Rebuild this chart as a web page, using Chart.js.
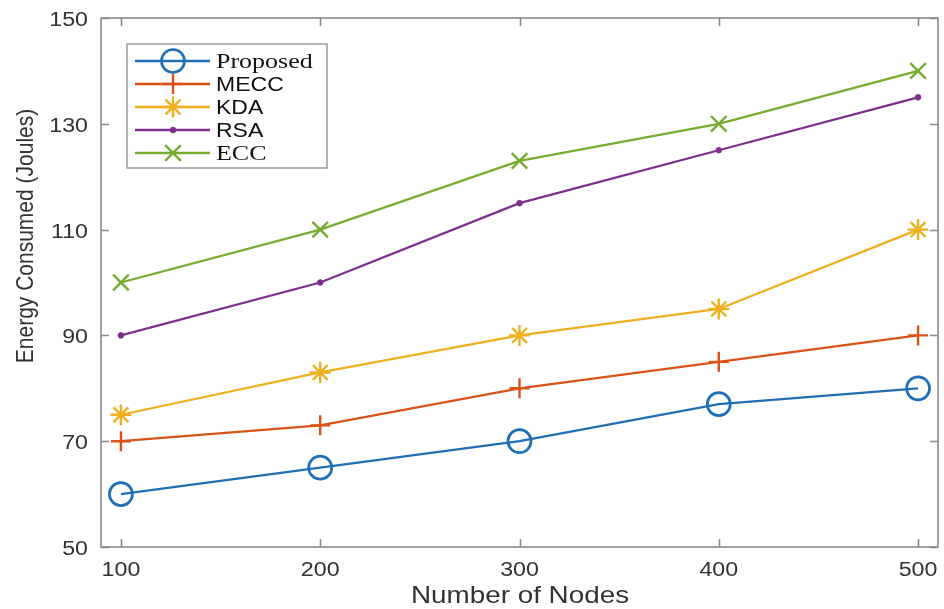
<!DOCTYPE html>
<html>
<head>
<meta charset="utf-8">
<script src="https://cdn.jsdelivr.net/npm/chart.js@4/dist/chart.umd.min.js"></script>
<style>
  html, body { margin: 0; padding: 0; background: #fff; }
  #wrap { width: 944px; height: 609px; position: relative; }
</style>
</head>
<body>
<div id="wrap"><canvas id="c" width="944" height="609"></canvas></div>
<script>
// Energy consumed per scheme versus network size
const nodes    = [100, 200, 300, 400, 500];
const proposed = [60, 65, 70, 77, 80];
const mecc     = [70, 73, 80, 85, 90];
const kda      = [75, 83, 90, 95, 110];
const rsa      = [90, 100, 115, 125, 135];
const ecc      = [100, 110, 123, 130, 140];
const yTicks   = [50, 70, 90, 110, 130, 150];
const xTitle   = 'Number of Nodes';
const yTitle   = 'Energy Consumed (Joules)';

const SANS  = '"Liberation Sans", Arial, sans-serif';
const SERIF = '"Liberation Serif", "Times New Roman", serif';

function series(label, values, color, style, radius, width, legendFont) {
  const solid = style === 'circle' && radius < 5;
  return {
    label,
    data: nodes.map((n, i) => ({ x: n, y: values[i] })),
    borderColor: color,
    backgroundColor: solid ? color : 'rgba(0,0,0,0)',
    borderWidth: 2.3,
    pointStyle: style,
    pointRadius: radius,
    pointHoverRadius: radius,
    pointBorderWidth: width,
    pointBorderColor: color,
    pointBackgroundColor: solid ? color : 'rgba(0,0,0,0)',
    tension: 0,
    legendFont
  };
}

const datasets = [
  series('Proposed', proposed, '#1f6fb2', 'circle',   11.5, 2.7, '22px ' + SERIF),
  series('MECC',     mecc,     '#d95319', 'cross',    10,   2.4, '19.5px ' + SANS),
  series('KDA',      kda,      '#edb120', 'star',     10.5, 2.4, '19.5px ' + SANS),
  series('RSA',      rsa,      '#7e2f8e', 'circle',   2.8,  1,   '19.5px ' + SANS),
  series('ECC',      ecc,      '#77ac30', 'crossRot', 11,   2.4, '22px ' + SERIF)
];

// text drawn with a slight horizontal widening
function wideText(ctx, text, x, y, sx, align, baseline) {
  ctx.save();
  ctx.translate(x, y);
  ctx.scale(sx, 1);
  ctx.textAlign = align;
  ctx.textBaseline = baseline;
  ctx.fillText(text, 0, 0);
  ctx.restore();
}

function marker(ctx, ds, x, y) {
  const r = ds.pointRadius;
  ctx.save();
  ctx.strokeStyle = ds.borderColor;
  ctx.fillStyle = ds.pointBackgroundColor;
  ctx.lineWidth = ds.pointBorderWidth;
  ctx.beginPath();
  const q = Math.PI / 4;
  const arm = (a) => {
    ctx.moveTo(x - Math.cos(a) * r, y - Math.sin(a) * r);
    ctx.lineTo(x + Math.cos(a) * r, y + Math.sin(a) * r);
  };
  if (ds.pointStyle === 'circle') {
    ctx.arc(x, y, r, 0, Math.PI * 2);
    ctx.fill();
    ctx.stroke();
  } else {
    if (ds.pointStyle === 'cross' || ds.pointStyle === 'star') { arm(0); arm(Math.PI / 2); }
    if (ds.pointStyle === 'crossRot' || ds.pointStyle === 'star') { arm(q); arm(3 * q); }
    ctx.stroke();
  }
  ctx.restore();
}

const frame = {
  id: 'frame',
  afterDraw(chart) {
    const { ctx, chartArea: a, scales: { x, y } } = chart;
    ctx.save();

    // axes box with inward ticks on all sides
    ctx.strokeStyle = '#8a8a8a';
    ctx.lineWidth = 1.6;
    ctx.strokeRect(a.left, a.top, a.right - a.left, a.bottom - a.top);
    const tl = 8;
    ctx.beginPath();
    nodes.forEach(v => {
      const px = Math.round(x.getPixelForValue(v)) + 0.5;
      ctx.moveTo(px, a.bottom); ctx.lineTo(px, a.bottom - tl);
      ctx.moveTo(px, a.top);    ctx.lineTo(px, a.top + tl);
    });
    yTicks.forEach(v => {
      const py = Math.round(y.getPixelForValue(v)) + 0.5;
      ctx.moveTo(a.left, py);  ctx.lineTo(a.left + tl, py);
      ctx.moveTo(a.right, py); ctx.lineTo(a.right - tl, py);
    });
    ctx.stroke();

    // tick labels
    ctx.fillStyle = '#333333';
    ctx.font = '20px ' + SANS;
    nodes.forEach(v => {
      wideText(ctx, String(v), x.getPixelForValue(v), a.bottom + 29, 1.16, 'center', 'alphabetic');
    });
    yTicks.forEach(v => {
      wideText(ctx, String(v), a.left - 13, y.getPixelForValue(v) + 8, 1.16, 'right', 'alphabetic');
    });

    // axis titles
    ctx.font = '24px ' + SANS;
    wideText(ctx, xTitle, 520, 603, 1.16, 'center', 'alphabetic');
    ctx.font = '21px ' + SANS;
    ctx.save();
    ctx.translate(33, 236);
    ctx.rotate(-Math.PI / 2);
    ctx.scale(1, 1.15);
    ctx.textAlign = 'center';
    ctx.textBaseline = 'alphabetic';
    ctx.fillText(yTitle, 0, 0);
    ctx.restore();

    // legend
    const lx = 127, ly = 44, lw = 200, lh = 124;
    ctx.fillStyle = '#ffffff';
    ctx.fillRect(lx, ly, lw, lh);
    ctx.strokeStyle = '#9a9a9a';
    ctx.lineWidth = 1.5;
    ctx.strokeRect(lx, ly, lw, lh);
    chart.data.datasets.forEach((ds, i) => {
      const ry = 61 + i * 23;
      ctx.strokeStyle = ds.borderColor;
      ctx.lineWidth = 2.6;
      ctx.beginPath();
      ctx.moveTo(135, ry); ctx.lineTo(210, ry);
      ctx.stroke();
      marker(ctx, ds, 173, ry);
      ctx.fillStyle = '#111';
      ctx.font = ds.legendFont;
      wideText(ctx, ds.label, 216, ry + 7, 1.18, 'left', 'alphabetic');
    });

    ctx.restore();
  }
};

new Chart(document.getElementById('c'), {
  type: 'line',
  data: { datasets },
  options: {
    responsive: false,
    animation: false,
    devicePixelRatio: 1,
    layout: { autoPadding: false, padding: { left: 101, right: 6, top: 18, bottom: 62 } },
    plugins: { legend: { display: false }, tooltip: { enabled: false } },
    scales: {
      x: { type: 'linear', min: 90, max: 510, display: false },
      y: { type: 'linear', min: 50, max: 150, display: false }
    }
  },
  plugins: [frame]
});
</script>
</body>
</html>
